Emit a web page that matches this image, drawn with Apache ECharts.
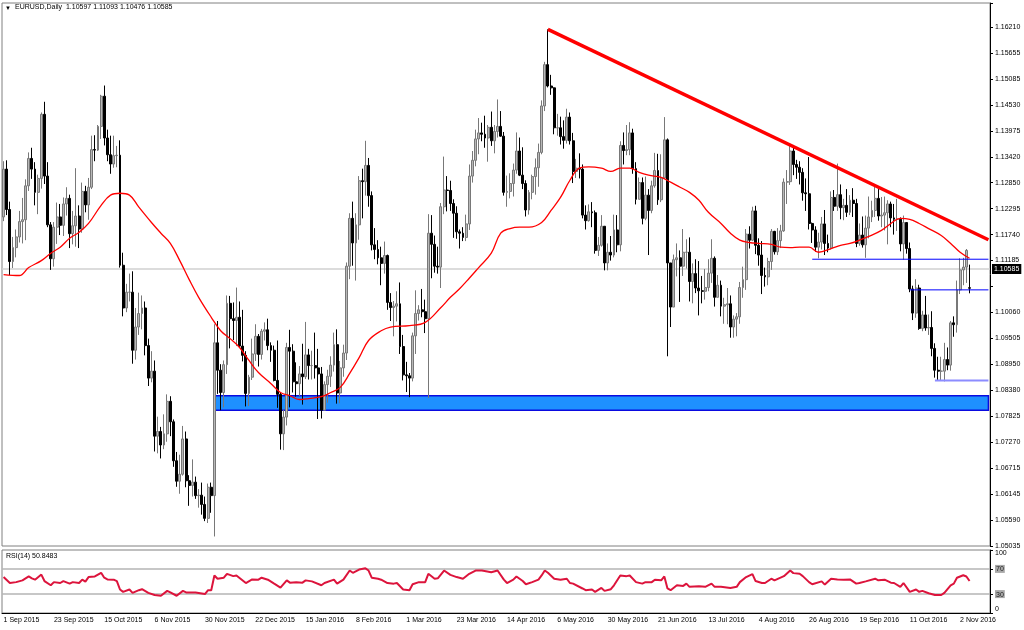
<!DOCTYPE html>
<html>
<head>
<meta charset="utf-8">
<title>EURUSD,Daily</title>
<script src="https://cdn.jsdelivr.net/npm/echarts@6/dist/echarts.min.js"></script>
<style>
  html, body { margin: 0; padding: 0; background: #fff; }
  #chart { width: 1024px; height: 630px; }
</style>
</head>
<body>
<div id="chart"></div>
<script>
// daily bars, 1 Sep 2015 .. 7 Nov 2016
var opens = [
  1.1212,1.1315,1.1228,1.1116,1.1146,1.1169,1.1202,1.1206,1.1279,1.1338,
  1.1315,1.1265,1.1295,1.1433,1.1300,1.1195,1.1122,1.1190,1.1212,1.1194,
  1.1240,1.1252,1.1176,1.1193,1.1214,1.1186,1.1267,1.1238,1.1276,1.1357,
  1.1356,1.1407,1.1472,1.1382,1.1346,1.1326,1.1344,1.1345,1.1108,1.1016,
  1.1050,1.1050,1.0925,1.0975,1.1004,1.1016,1.0935,1.0865,1.0880,1.0740,
  1.0750,1.0721,1.0745,1.0815,1.0771,1.0687,1.0643,1.0658,1.0734,1.0644,
  1.0634,1.0641,1.0612,1.0613,1.0593,1.0563,1.0630,1.0612,1.0941,1.0882,
  1.0834,1.0894,1.1026,1.0993,1.0989,1.0996,1.0934,1.0914,1.0832,1.0867,
  1.0917,1.0955,1.0916,1.0966,1.0969,1.0935,1.0925,1.0860,1.0830,1.0745,
  1.0781,1.0931,1.0923,1.0857,1.0853,1.0874,1.0868,1.0915,1.0892,1.0892,
  1.0887,1.0874,1.0796,1.0851,1.0869,1.0893,1.0937,1.0833,1.0887,1.0919,
  1.1106,1.1209,1.1156,1.1195,1.1290,1.1288,1.1323,1.1258,1.1152,1.1142,
  1.1124,1.1112,1.1129,1.1028,1.1017,1.1020,1.1025,1.0933,1.0872,1.0870,
  1.0865,1.0956,1.1004,1.1012,1.1008,1.0993,1.1177,1.1153,1.1106,1.1104,
  1.1234,1.1270,1.1269,1.1241,1.1220,1.1180,1.1177,1.1168,1.1197,1.1300,
  1.1334,1.1380,1.1393,1.1390,1.1382,1.1405,1.1376,1.1396,1.1407,1.1386,
  1.1265,1.1267,1.1284,1.1313,1.1354,1.1302,1.1284,1.1227,1.1265,1.1299,
  1.1318,1.1351,1.1451,1.1540,1.1494,1.1490,1.1404,1.1404,1.1385,1.1377,
  1.1427,1.1376,1.1310,1.1317,1.1315,1.1216,1.1204,1.1223,1.1221,1.1140,
  1.1151,1.1192,1.1113,1.1136,1.1130,1.1184,1.1152,1.1366,1.1355,1.1357,
  1.1393,1.1316,1.1250,1.1286,1.1209,1.1259,1.1226,1.1279,1.1312,1.1249,
  1.1296,1.1378,1.1113,1.1018,1.1120,1.1124,1.1106,1.1136,1.1136,1.1073,
  1.1090,1.1059,1.1053,1.1052,1.1060,1.1091,1.1123,1.1039,1.1065,1.1020,
  1.1023,1.1025,1.0975,1.0992,1.0997,1.1060,1.1077,1.1175,1.1162,1.1225,
  1.1151,1.1130,1.1086,1.1083,1.1116,1.1181,1.1137,1.1161,1.1182,1.1287,
  1.1288,1.1354,1.1325,1.1319,1.1308,1.1264,1.1262,1.1198,1.1184,1.1147,
  1.1158,1.1197,1.1155,1.1145,1.1254,1.1235,1.1260,1.1232,1.1237,1.1222,
  1.1248,1.1241,1.1155,1.1173,1.1152,1.1188,1.1212,1.1226,1.1252,1.1214,
  1.1216,1.1221,1.1240,1.1210,1.1207,1.1207,1.1154,1.1200,1.1144,1.1057,
  1.1005,1.1059,1.0972,1.1001,1.0973,1.0974,1.0929,1.0882,1.0880,1.0880,
  1.0905,1.0893,1.0984,1.0980,1.1055,1.1098,1.1104,1.10597
];
var highs = [
  1.1332,1.1334,1.1245,1.1169,1.1185,1.1225,1.1253,1.1293,1.1351,1.1361,
  1.1330,1.1303,1.1437,1.1460,1.1330,1.1201,1.1201,1.1243,1.1240,1.1254,
  1.1276,1.1260,1.1225,1.1317,1.1237,1.1286,1.1279,1.1296,1.1387,1.1388,
  1.1410,1.1475,1.1495,1.1400,1.1387,1.1387,1.1365,1.1377,1.1135,1.1068,
  1.1090,1.1095,1.1016,1.1049,1.1043,1.1030,1.0950,1.0923,1.0903,1.0782,
  1.0760,1.0787,1.0830,1.0826,1.0776,1.0706,1.0700,1.0762,1.0750,1.0656,
  1.0690,1.0653,1.0626,1.0640,1.0610,1.0638,1.0640,1.0981,1.0988,1.0895,
  1.0903,1.1043,1.1042,1.1028,1.1060,1.1030,1.1012,1.0923,1.0872,1.0950,
  1.0981,1.0960,1.0971,1.0985,1.0993,1.0942,1.0935,1.0946,1.0835,1.0797,
  1.0941,1.0969,1.0938,1.0899,1.0891,1.0939,1.0986,1.0928,1.0924,1.0963,
  1.0928,1.0889,1.0858,1.0883,1.0912,1.0963,1.0970,1.0902,1.0937,1.1114,
  1.1220,1.1245,1.1220,1.1300,1.1316,1.1376,1.1339,1.1267,1.1188,1.1162,
  1.1148,1.1159,1.1131,1.1048,1.1031,1.1052,1.1071,1.0958,1.0900,1.0876,
  1.0963,1.1054,1.1022,1.1057,1.1034,1.1218,1.1216,1.1172,1.1148,1.1242,
  1.1342,1.1300,1.1290,1.1250,1.1235,1.1185,1.1190,1.1217,1.1325,1.1354,
  1.1400,1.1425,1.1415,1.1430,1.1410,1.1439,1.1410,1.1465,1.1440,1.1395,
  1.1301,1.1306,1.1327,1.1394,1.1383,1.1362,1.1291,1.1270,1.1303,1.1338,
  1.1370,1.1463,1.1546,1.1616,1.1518,1.1491,1.1434,1.1428,1.1420,1.1445,
  1.1437,1.1393,1.1337,1.1349,1.1325,1.1237,1.1239,1.1244,1.1226,1.1169,
  1.1216,1.1192,1.1155,1.1171,1.1217,1.1216,1.1375,1.1394,1.1410,1.1416,
  1.1402,1.1330,1.1297,1.1297,1.1299,1.1272,1.1290,1.1350,1.1348,1.1347,
  1.1427,1.1381,1.1113,1.1131,1.1155,1.1140,1.1186,1.1164,1.1168,1.1112,
  1.1121,1.1117,1.1085,1.1100,1.1121,1.1164,1.1127,1.1087,1.1075,1.1038,
  1.1059,1.1043,1.1000,1.1005,1.1072,1.1105,1.1186,1.1192,1.1234,1.1236,
  1.1166,1.1160,1.1103,1.1124,1.1186,1.1182,1.1188,1.1195,1.1295,1.1313,
  1.1368,1.1367,1.1335,1.1332,1.1317,1.1295,1.1341,1.1200,1.1192,1.1178,
  1.1212,1.1227,1.1174,1.1267,1.1270,1.1327,1.1282,1.1251,1.1272,1.1259,
  1.1274,1.1251,1.1198,1.1213,1.1215,1.1256,1.1247,1.1279,1.1272,1.1255,
  1.1256,1.1248,1.1245,1.1240,1.1251,1.1211,1.1215,1.1200,1.1157,1.1064,
  1.1078,1.1066,1.1010,1.1042,1.1002,1.1009,1.0940,1.0911,1.0911,1.0941,
  1.0931,1.0988,1.0998,1.1075,1.1123,1.1124,1.1143,1.11093
];
var lows = [
  1.1203,1.1216,1.1087,1.1102,1.1125,1.1157,1.1155,1.1162,1.1268,1.1294,
  1.1237,1.1218,1.1273,1.1283,1.1190,1.1098,1.1105,1.1154,1.1173,1.1171,
  1.1215,1.1145,1.1153,1.1148,1.1145,1.1178,1.1222,1.1206,1.1272,1.1332,
  1.1354,1.1380,1.1366,1.1332,1.1305,1.1318,1.1319,1.1103,1.0998,1.1007,
  1.1030,1.0896,1.0905,1.0958,1.0970,1.0914,1.0848,1.0856,1.0707,1.0703,
  1.0692,1.0712,1.0728,1.0740,1.0674,1.0631,1.0616,1.0655,1.0630,1.0590,
  1.0610,1.0605,1.0586,1.0571,1.0557,1.0553,1.0575,1.0524,1.0831,1.0796,
  1.0802,1.0874,1.0929,1.0947,1.0934,1.0930,1.0901,1.0804,1.0805,1.0861,
  1.0902,1.0890,1.0905,1.0946,1.0925,1.0900,1.0858,1.0801,1.0711,1.0710,
  1.0763,1.0802,1.0834,1.0825,1.0826,1.0808,1.0863,1.0862,1.0862,1.0864,
  1.0777,1.0778,1.0796,1.0812,1.0846,1.0879,1.0810,1.0811,1.0868,1.0904,
  1.1078,1.1107,1.1075,1.1163,1.1209,1.1258,1.1234,1.1140,1.1121,1.1110,
  1.1065,1.1090,1.1012,1.0988,1.0955,1.0987,1.0917,1.0860,1.0835,1.0824,
  1.0858,1.0917,1.0989,1.0996,1.0962,1.0822,1.1080,1.1092,1.1090,1.1059,
  1.1218,1.1224,1.1225,1.1167,1.1165,1.1144,1.1160,1.1160,1.1184,1.1286,
  1.1321,1.1347,1.1375,1.1361,1.1331,1.1365,1.1349,1.1383,1.1385,1.1258,
  1.1234,1.1252,1.1256,1.1305,1.1300,1.1272,1.1213,1.1217,1.1250,1.1260,
  1.1277,1.1347,1.1440,1.1491,1.1475,1.1390,1.1387,1.1368,1.1359,1.1370,
  1.1368,1.1285,1.1296,1.1295,1.1209,1.1185,1.1202,1.1190,1.1133,1.1128,
  1.1148,1.1097,1.1097,1.1118,1.1125,1.1136,1.1138,1.1325,1.1345,1.1345,
  1.1305,1.1239,1.1250,1.1196,1.1205,1.1130,1.1220,1.1275,1.1238,1.1244,
  1.1295,1.0912,1.0975,1.1018,1.1084,1.1029,1.1085,1.1101,1.1030,1.1026,
  1.1048,1.1000,1.1026,1.1034,1.1052,1.1070,1.1019,1.1039,1.0998,1.0982,
  1.0981,1.0952,1.0952,1.0955,1.0982,1.1038,1.1055,1.1144,1.1160,1.1132,
  1.1107,1.1046,1.1062,1.1065,1.1098,1.1131,1.1130,1.1145,1.1180,1.1240,
  1.1281,1.1302,1.1294,1.1282,1.1247,1.1225,1.1185,1.1156,1.1137,1.1123,
  1.1142,1.1130,1.1136,1.1142,1.1225,1.1225,1.1207,1.1205,1.1212,1.1216,
  1.1212,1.1147,1.1150,1.1146,1.1124,1.1166,1.1201,1.1212,1.1204,1.1190,
  1.1183,1.1153,1.1190,1.1174,1.1182,1.1138,1.1120,1.1133,1.1050,1.0990,
  1.0995,1.0969,1.0966,1.0967,1.0958,1.0912,1.0866,1.0861,1.0859,1.0858,
  1.0882,1.0881,1.0954,1.0963,1.1046,1.1065,1.1070,1.10476
];
var closes = [
  1.1315,1.1228,1.1116,1.1146,1.1169,1.1202,1.1206,1.1279,1.1338,1.1315,
  1.1265,1.1295,1.1433,1.1300,1.1195,1.1122,1.1190,1.1212,1.1194,1.1240,
  1.1252,1.1176,1.1193,1.1214,1.1186,1.1267,1.1238,1.1276,1.1357,1.1356,
  1.1407,1.1472,1.1382,1.1346,1.1326,1.1344,1.1345,1.1108,1.1016,1.1050,
  1.1050,1.0925,1.0975,1.1004,1.1016,1.0935,1.0865,1.0880,1.0740,1.0750,
  1.0721,1.0745,1.0815,1.0771,1.0687,1.0643,1.0658,1.0734,1.0644,1.0634,
  1.0641,1.0612,1.0613,1.0593,1.0563,1.0630,1.0612,1.0941,1.0882,1.0834,
  1.0894,1.1026,1.0993,1.0989,1.0996,1.0934,1.0914,1.0832,1.0867,1.0917,
  1.0955,1.0916,1.0966,1.0969,1.0935,1.0925,1.0860,1.0830,1.0745,1.0781,
  1.0931,1.0923,1.0857,1.0853,1.0874,1.0868,1.0915,1.0892,1.0892,1.0887,
  1.0874,1.0796,1.0851,1.0869,1.0893,1.0937,1.0833,1.0887,1.0919,1.1106,
  1.1209,1.1156,1.1195,1.1290,1.1288,1.1323,1.1258,1.1152,1.1142,1.1124,
  1.1112,1.1129,1.1028,1.1017,1.1020,1.1025,1.0933,1.0872,1.0870,1.0865,
  1.0956,1.1004,1.1012,1.1008,1.0993,1.1177,1.1153,1.1106,1.1104,1.1234,
  1.1270,1.1269,1.1241,1.1220,1.1180,1.1177,1.1168,1.1197,1.1300,1.1334,
  1.1380,1.1393,1.1390,1.1382,1.1405,1.1376,1.1396,1.1407,1.1386,1.1265,
  1.1267,1.1284,1.1313,1.1354,1.1302,1.1284,1.1227,1.1265,1.1299,1.1318,
  1.1351,1.1451,1.1540,1.1494,1.1490,1.1404,1.1404,1.1385,1.1377,1.1427,
  1.1376,1.1310,1.1317,1.1315,1.1216,1.1204,1.1223,1.1221,1.1140,1.1151,
  1.1192,1.1113,1.1136,1.1130,1.1184,1.1152,1.1366,1.1355,1.1357,1.1393,
  1.1316,1.1250,1.1286,1.1209,1.1259,1.1226,1.1279,1.1312,1.1249,1.1296,
  1.1378,1.1113,1.1018,1.1120,1.1124,1.1106,1.1136,1.1136,1.1073,1.1090,
  1.1059,1.1053,1.1052,1.1060,1.1091,1.1123,1.1039,1.1065,1.1020,1.1023,
  1.1025,1.0975,1.0992,1.0997,1.1060,1.1077,1.1175,1.1162,1.1225,1.1151,
  1.1130,1.1086,1.1083,1.1116,1.1181,1.1137,1.1161,1.1182,1.1287,1.1288,
  1.1354,1.1325,1.1319,1.1308,1.1264,1.1262,1.1198,1.1184,1.1147,1.1158,
  1.1197,1.1155,1.1145,1.1254,1.1235,1.1260,1.1232,1.1237,1.1222,1.1248,
  1.1241,1.1155,1.1173,1.1152,1.1188,1.1212,1.1226,1.1252,1.1214,1.1216,
  1.1221,1.1240,1.1210,1.1207,1.1207,1.1154,1.1200,1.1144,1.1057,1.1005,
  1.1059,1.0972,1.1001,1.0973,1.0974,1.0929,1.0882,1.0880,1.0880,1.0905,
  1.0893,1.0984,1.0980,1.1055,1.1098,1.1104,1.1140,1.10585
];

// moving average: [bar index, price]
var maPoints = [
  [0,1.1088],[5,1.1086],[8,1.1103],[12,1.1118],[15,1.1134],[18,1.1147],[21,1.1166],[24,1.1179],
  [27,1.1198],[31,1.1237],[34,1.1259],[37,1.1263],[40,1.1259],[43,1.1233],[47,1.1200],[50,1.1177],
  [53,1.1155],[56,1.1118],[59,1.1077],[62,1.1039],[66,1.0996],[69,1.0967],[72,1.0950],[75,1.0931],
  [78,1.0903],[81,1.0877],[85,1.0853],[88,1.0834],[91,1.0827],[94,1.0819],[97,1.0821],[101,1.0825],
  [104,1.0834],[107,1.0845],[110,1.0875],[113,1.0909],[116,1.0946],[120,1.0967],[123,1.0975],[129,1.0978],
  [134,1.0985],[139,1.1017],[142,1.1039],[145,1.1058],[148,1.1080],[151,1.1103],[155,1.1134],[158,1.1177],
  [161,1.1187],[164,1.1190],[167,1.1190],[171,1.1200],[174,1.1226],[177,1.1254],[180,1.1291],[183,1.1317],
  [186,1.1320],[190,1.1317],[193,1.1310],[196,1.1317],[199,1.1317],[202,1.1308],[205,1.1302],[209,1.1297],
  [212,1.1287],[215,1.1276],[218,1.1265],[221,1.1248],[224,1.1222],[228,1.1198],[231,1.1177],[234,1.1162],
  [237,1.1157],[240,1.1155],[244,1.1153],[247,1.1147],[250,1.1146],[253,1.1147],[256,1.1147],[259,1.1136],
  [263,1.1144],[266,1.1151],[269,1.1155],[272,1.1162],[275,1.1170],[279,1.1183],[282,1.1198],[285,1.1209],
  [288,1.1207],[291,1.1198],[294,1.1187],[298,1.1172],[301,1.1155],[304,1.1136],[307,1.1123]
];

// RSI(14): [bar index, value]
var rsiPoints = [
  [0,57],[2,47.6],[4,49],[6,51.8],[8,58],[9,55],[10,52.9],[12,61],[13,50.7],[15,44],[16,49],[18,47.6],
  [19,50.7],[21,46.6],[22,49],[24,47.6],[25,52.9],[26,49.8],[27,57],[29,58],[31,63.8],[32,56],[33,53.3],
  [35,52.9],[36,50.7],[37,37.3],[38,33.6],[40,37.3],[41,32],[43,36.2],[44,37.8],[46,32],[48,28.5],[50,27.4],
  [52,35.1],[53,32.6],[55,27.4],[57,35.1],[58,32.6],[61,32.6],[64,30],[65,36.2],[66,36.2],[67,59.6],
  [68,54.4],[70,56],[71,62.2],[73,58.5],[74,59.6],[77,47.6],[79,53.3],[81,52.9],[82,56],[84,52.9],
  [86,46.6],[88,40.4],[90,51.8],[91,48.2],[93,49],[95,48.2],[96,51.8],[98,50.2],[101,44],[102,47.6],
  [105,52.9],[106,46.6],[108,52.9],[110,67.4],[111,63.8],[113,68.9],[115,70.9],[116,67.4],[117,56],
  [119,54.4],[120,52.9],[122,47.6],[124,46.6],[125,47.6],[127,37.3],[129,36.2],[130,45.6],[132,49],
  [134,49],[135,62.2],[137,54.4],[138,55],[140,67.4],[142,60.6],[144,57],[146,54.4],[148,62.2],[150,67.4],
  [152,67.4],[155,64.7],[157,67.4],[159,52.9],[160,47.6],[162,52.9],[163,58],[165,50.7],[166,45.6],
  [168,49],[170,52.9],[171,59.6],[172,67.4],[173,63.8],[175,54.4],[177,52.9],[179,54.4],[180,47.6],
  [181,46.6],[184,38.9],[185,36.2],[187,37.3],[188,33.6],[190,39.8],[191,35.1],[193,37.8],[194,44],
  [196,59.6],[198,58.5],[199,59.6],[201,49],[203,46.6],[204,49],[206,49],[207,52.9],[209,51.8],[210,58],
  [211,38.9],[212,36.2],[214,44],[216,43],[217,46.6],[218,41.5],[221,42.4],[223,41.5],[225,46.6],
  [226,41.5],[228,41.5],[231,39.8],[233,41.5],[234,49],[236,57],[238,61.6],[239,50.7],[241,47.6],
  [242,47.6],[244,54.4],[245,51.8],[248,58.5],[250,67.4],[251,63.3],[253,62.2],[254,58.5],[256,49],
  [257,45.6],[260,50.2],[261,45.1],[263,54.4],[265,53.3],[267,52.9],[269,53.3],[271,46.6],[272,47.6],
  [274,50.2],[277,54.4],[278,51.8],[280,52.9],[282,48.2],[283,47.6],[285,41.5],[286,47.6],[288,33.6],
  [290,37.3],[291,33.6],[292,35.1],[294,31.3],[296,28.5],[298,28.5],[299,32],[301,44],[302,46.6],
  [303,56],[305,60],[306,58],[307,50.8]
];

// drawn objects (bar index, price)
var trendLine = [[173, 1.1616], [313, 1.1163]];
var levelHigh = [[257, 1.1121], [313, 1.1121]];
var levelMid = [[288, 1.1055], [313, 1.1055]];
var levelLow = [[296, 1.0860], [313, 1.0860]];
var zoneFrom = [67, 1.0827];
var zoneTo = [313, 1.0796];
var lastPrice = 1.10585;

var priceTicks = ['1.05035','1.05590','1.06145','1.06715','1.07270','1.07825','1.08380','1.08950',
  '1.09505','1.10060','','1.11185','1.11740','1.12295','1.12850','1.13420','1.13975','1.14530',
  '1.15085','1.15655','1.16210'];
var dateTicks = ['1 Sep 2015','23 Sep 2015','15 Oct 2015','6 Nov 2015','30 Nov 2015','22 Dec 2015',
  '15 Jan 2016','8 Feb 2016','1 Mar 2016','23 Mar 2016','14 Apr 2016','6 May 2016','30 May 2016',
  '21 Jun 2016','13 Jul 2016','4 Aug 2016','26 Aug 2016','19 Sep 2016','11 Oct 2016','2 Nov 2016'];
var rsiTicks = [0, 30, 70, 100];

var slots = 314;      // bars plus empty space on the right
var yMin = 1.05035, yStep = 0.0055875, yMax = 1.16727;
var font = 'Liberation Sans';

var cats = [];
for (var i = 0; i < slots; i++) cats.push(i);
var candles = opens.map(function (o, i) { return [o, closes[i], lows[i], highs[i]]; });

var chart = echarts.init(document.getElementById('chart'));

var option = {
  animation: false,
  backgroundColor: '#ffffff',
  grid: [
    { left: 2, top: 3, width: 988, height: 543, show: true, borderColor: '#808080', borderWidth: 1 },
    { left: 2, top: 550, width: 988, height: 63, show: true, borderColor: '#808080', borderWidth: 1 }
  ],
  xAxis: [
    {
      type: 'category', gridIndex: 0, data: cats, boundaryGap: true,
      axisLine: { show: false }, axisTick: { show: false }, axisLabel: { show: false }
    },
    {
      type: 'category', gridIndex: 1, data: cats, boundaryGap: true,
      axisLine: { lineStyle: { color: '#000', width: 1 } },
      axisTick: { interval: 15, alignWithLabel: true, length: 4, lineStyle: { color: '#000' } },
      axisLabel: {
        interval: 15, align: 'left', margin: 4, color: '#000', fontSize: 7, fontFamily: font,
        formatter: function (v, idx) { return idx % 16 === 0 ? (dateTicks[idx / 16] || '') : ''; }
      }
    }
  ],
  yAxis: [
    {
      type: 'value', gridIndex: 0, position: 'right', min: yMin, max: yMax, interval: yStep,
      splitLine: { show: false },
      axisLine: { show: true, lineStyle: { color: '#000' } },
      axisTick: { show: true, length: 3, lineStyle: { color: '#000' } },
      axisLabel: {
        margin: 5, color: '#000', fontSize: 7, fontFamily: font, showMaxLabel: true,
        formatter: function (v) {
          var k = Math.round((v - yMin) / yStep);
          if (Math.abs(v - (yMin + k * yStep)) > 1e-6) return '';
          return priceTicks[k] || '';
        }
      }
    },
    {
      type: 'value', gridIndex: 1, position: 'right', min: 0, max: 100,
      splitLine: { show: false },
      axisLine: { show: true, lineStyle: { color: '#000' } },
      axisTick: { show: true, length: 3, customValues: rsiTicks, lineStyle: { color: '#000' } },
      axisLabel: {
        margin: 5, color: '#000', fontSize: 7, fontFamily: font, customValues: rsiTicks,
        verticalAlignMaxLabel: 'top', verticalAlignMinLabel: 'bottom',
        formatter: function (v) { return (v === 30 || v === 70) ? '{g|' + v + '}' : String(v); },
        rich: { g: { backgroundColor: '#a8a8a8', color: '#222', fontSize: 7, fontFamily: font, padding: [1, 1, 0, 1] } }
      }
    }
  ],
  series: [
    {
      name: 'zone', type: 'line', xAxisIndex: 0, yAxisIndex: 0, data: [], z: 1,
      markArea: {
        silent: true,
        itemStyle: { color: '#1e90ff', borderColor: '#0a0ae0', borderWidth: 1.5 },
        data: [[{ xAxis: zoneFrom[0], yAxis: zoneFrom[1] }, { xAxis: zoneTo[0], yAxis: zoneTo[1] }]]
      }
    },
    {
      name: 'EURUSD', type: 'candlestick', xAxisIndex: 0, yAxisIndex: 0, data: candles, z: 3,
      barWidth: 2.4,
      itemStyle: { color: '#b8b8b8', color0: '#000000', borderColor: '#787878', borderColor0: '#000000', borderWidth: 1 },
      markLine: {
        silent: true, symbol: 'none', z: 2,
        lineStyle: { color: '#d0d0d0', width: 1.5, type: 'solid' },
        label: {
          show: true, position: 'end', distance: 2, formatter: lastPrice.toFixed(5),
          backgroundColor: '#000', color: '#fff', fontSize: 7, fontFamily: font, padding: [2, 2, 1, 2]
        },
        data: [{ yAxis: lastPrice }]
      }
    },
    {
      name: 'MA', type: 'line', xAxisIndex: 0, yAxisIndex: 0, data: maPoints, z: 4,
      smooth: 0.4, symbol: 'none', lineStyle: { color: '#ff0000', width: 1.3 }
    },
    {
      name: 'trend', type: 'line', xAxisIndex: 0, yAxisIndex: 0, data: trendLine, z: 5,
      symbol: 'none', lineStyle: { color: '#ff0000', width: 3.5 }
    },
    {
      name: 'level1', type: 'line', xAxisIndex: 0, yAxisIndex: 0, data: levelHigh, z: 5,
      symbol: 'none', lineStyle: { color: '#0000ff', width: 1 }
    },
    {
      name: 'level2', type: 'line', xAxisIndex: 0, yAxisIndex: 0, data: levelMid, z: 5,
      symbol: 'none', lineStyle: { color: '#0000ff', width: 1 }
    },
    {
      name: 'level3', type: 'line', xAxisIndex: 0, yAxisIndex: 0, data: levelLow, z: 5,
      symbol: 'none', lineStyle: { color: '#8c8cff', width: 2 }
    },
    {
      name: 'RSI', type: 'line', xAxisIndex: 1, yAxisIndex: 1, data: rsiPoints, z: 4,
      symbol: 'none', lineStyle: { color: '#dc143c', width: 2 },
      markLine: {
        silent: true, symbol: 'none', z: 2, label: { show: false },
        lineStyle: { color: '#b4b4b4', width: 1.5, type: 'solid' },
        data: [{ yAxis: 70 }, { yAxis: 30 }]
      }
    }
  ],
  graphic: [
    { type: 'text', left: 5, top: 5, style: { text: '\u25BC', font: '6px ' + font, fill: '#000' } },
    { type: 'text', left: 15, top: 4, style: { text: 'EURUSD,Daily  1.10597 1.11093 1.10476 1.10585', font: '7px ' + font, fill: '#000' } },
    { type: 'text', left: 6, top: 553, style: { text: 'RSI(14) 50.8483', font: '7px ' + font, fill: '#000' } }
  ]
};

chart.setOption(option);
</script>
</body>
</html>
